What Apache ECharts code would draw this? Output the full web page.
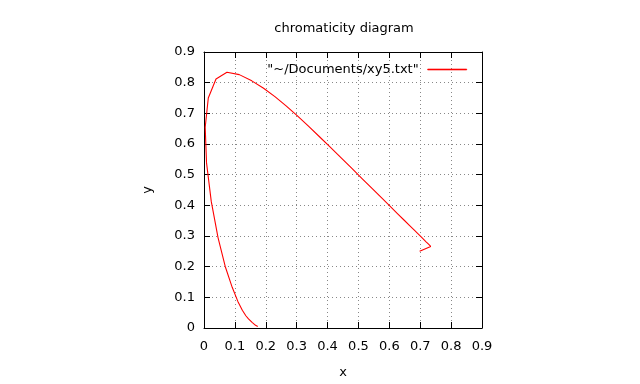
<!DOCTYPE html>
<html>
<head>
<meta charset="utf-8">
<script src="https://cdn.jsdelivr.net/npm/echarts@6/dist/echarts.min.js"></script>
<style>html,body{margin:0;padding:0;background:#fff;}#c{width:640px;height:384px;}</style>
</head>
<body>
<div id="c"></div>
<script>
var titleText = 'chromaticity diagram';
var seriesName = '"~/Documents/xy5.txt"';
var xName = 'x';
var yName = 'y';
var axisMin = 0, axisMax = 0.9, axisStep = 0.1;

// chromaticity coordinates (spectral locus, blue end to red end)
var xValues = [0.1741,0.1740,0.1738,0.1736,0.1733,0.1730,0.1726,0.1721,0.1714,0.1703,0.1689,0.1669,0.1644,0.1611,0.1566,0.1510,0.1440,0.1355,0.1241,0.1096,0.0913,0.0687,0.0454,0.0235,0.0082,0.0039,0.0139,0.0389,0.0743,0.1142,0.1547,0.1929,0.2296,0.2658,0.3016,0.3373,0.3731,0.4087,0.4441,0.4788,0.5125,0.5448,0.5752,0.6029,0.6270,0.6482,0.6658,0.6801,0.6915,0.7006,0.7079,0.7140,0.7190,0.7230,0.7260,0.7283,0.7300,0.7311,0.7320,0.7327,0.7334,0.7340,0.7344,0.7346,0.7347,0.6980];
var yValues = [0.0050,0.0050,0.0049,0.0049,0.0048,0.0048,0.0048,0.0048,0.0051,0.0058,0.0069,0.0086,0.0109,0.0138,0.0177,0.0227,0.0297,0.0399,0.0578,0.0868,0.1327,0.2007,0.2950,0.4127,0.5384,0.6548,0.7502,0.8120,0.8338,0.8262,0.8059,0.7816,0.7543,0.7243,0.6923,0.6589,0.6245,0.5896,0.5547,0.5202,0.4866,0.4544,0.4242,0.3965,0.3725,0.3514,0.3340,0.3197,0.3083,0.2993,0.2920,0.2859,0.2809,0.2770,0.2740,0.2717,0.2700,0.2689,0.2680,0.2673,0.2666,0.2660,0.2656,0.2654,0.2653,0.2500];

var pts = xValues.map(function(v, i){ return [v, yValues[i]]; });
var font = 'DejaVu Sans';

function fmt(v){ return v === 0 ? '0' : String(Math.round(v*10)/10); }

var baseAxis = {
  min: axisMin, max: axisMax, interval: axisStep,
  axisLine: {show: true, onZero: false, lineStyle: {color: '#000', width: 1}},
  axisTick: {show: true, inside: true, length: 6, lineStyle: {color: '#000', width: 1}},
  splitLine: {show: false}
};
function mk(extra){ return Object.assign({}, JSON.parse(JSON.stringify(baseAxis)), extra); }

var chart = echarts.init(document.getElementById('c'), null, {renderer: 'canvas'});
chart.setOption({
  animation: false,
  backgroundColor: '#fff',
  title: {text: titleText, left: 339, top: 17, textAlign: 'center',
    textStyle: {fontFamily: font, fontSize: 13, fontWeight: 'normal', color: '#000'}},
  legend: {
    data: [seriesName],
    right: 168, top: 58, align: 'right',
    icon: 'rect', itemWidth: 39, itemHeight: 1,
    itemStyle: {color: '#ff0000', borderColor: '#ff0000', borderWidth: 0.6, opacity: 1},
    textStyle: {fontFamily: font, fontSize: 13, color: '#000', padding: [0, 4, 0, 0]}
  },
  grid: {left: 204, top: 52, width: 278, height: 278, containLabel: false},
  xAxis: [
    mk({type: 'value', position: 'bottom', name: xName, nameLocation: 'middle', nameGap: 38,
      nameTextStyle: {fontFamily: font, fontSize: 13, color: '#000'},
      axisLabel: {show: true, margin: 12, color: '#000', fontFamily: font, fontSize: 13, formatter: fmt},
      splitLine: {show: true, lineStyle: {color: '#888', type: [1, 3], width: 1}}}),
    mk({type: 'value', position: 'top', axisLabel: {show: false}})
  ],
  yAxis: [
    mk({type: 'value', position: 'left', name: yName, nameLocation: 'middle', nameGap: 50, nameRotate: 90,
      nameTextStyle: {fontFamily: font, fontSize: 13, color: '#000'},
      axisLabel: {show: true, margin: 9, color: '#000', fontFamily: font, fontSize: 13, formatter: fmt},
      splitLine: {show: true, lineStyle: {color: '#888', type: [1, 3], width: 1}}}),
    mk({type: 'value', position: 'right', axisLabel: {show: false}})
  ],
  series: [{
    name: seriesName, type: 'line', data: pts, showSymbol: false, symbol: 'none',
    xAxisIndex: 0, yAxisIndex: 0, color: '#ff0000',
    lineStyle: {color: '#ff0000', width: 1.1}, itemStyle: {color: '#ff0000'}
  }]
});
</script>
</body>
</html>
